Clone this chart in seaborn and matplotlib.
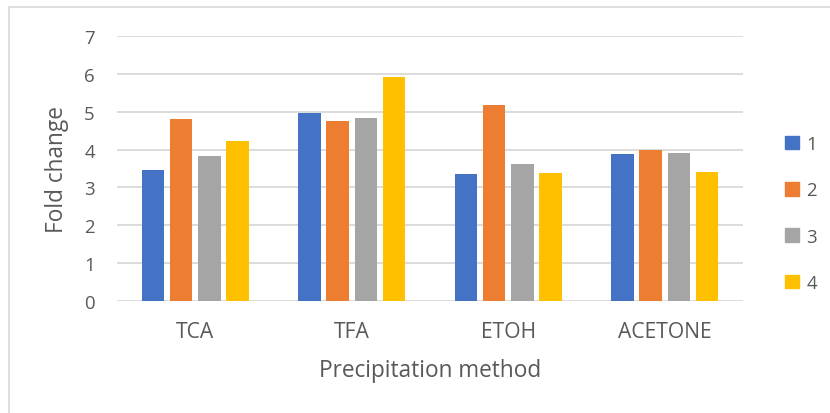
import matplotlib
matplotlib.use("Agg")
import matplotlib.pyplot as plt
import seaborn as sns
import pandas as pd
from matplotlib.lines import Line2D

categories = ["TCA", "TFA", "ETOH", "ACETONE"]
series_names = ["1", "2", "3", "4"]
s1 = [3.47, 4.96, 3.35, 3.88]
s2 = [4.80, 4.77, 5.18, 4.00]
s3 = [3.83, 4.83, 3.61, 3.90]
s4 = [4.24, 5.93, 3.39, 3.41]
yticks = [0, 1, 2, 3, 4, 5, 6, 7]
colors = ["#4472C4", "#ED7D31", "#A5A5A5", "#FFC000"]

rows = []
for name, vals in zip(series_names, [s1, s2, s3, s4]):
    for c, v in zip(categories, vals):
        rows.append({"method": c, "series": name, "value": v})
df = pd.DataFrame(rows)

sns.set_theme(style="white")
plt.rcParams['font.family'] = ['Open Sans', 'DejaVu Sans']
txt = "#595959"
W, H = 830, 414
ytick_fs = 13.4
xtick_fs = 15.2
lab_fs = 16.3
leg_fs = 13.4

fig = plt.figure(figsize=(W/100, H/100), dpi=100)
ax = fig.add_axes([117/W, 1-301.7/H, (743-117)/W, (301.7-37.3)/H])

sns.barplot(data=df, x="method", y="value", hue="series", order=categories,
            hue_order=series_names, palette=colors, saturation=1,
            width=0.72, gap=0.2, edgecolor="none", linewidth=0, ax=ax,
            legend=False)

ax.set_ylim(0, 7)
ax.set_yticks(yticks)
ax.set_xlim(-0.5, len(categories)-0.5)
ax.yaxis.grid(True, color="#d9d9d9", linewidth=1.3)
ax.set_axisbelow(True)
for sp in ax.spines.values():
    sp.set_visible(False)
ax.tick_params(axis="both", length=0, colors=txt)
ax.tick_params(axis="x", pad=14.5, labelsize=xtick_fs)
ax.tick_params(axis="y", pad=16, labelsize=ytick_fs)
ax.set_xlabel("Precipitation method", fontsize=lab_fs, color=txt, va="top")
ax.xaxis.set_label_coords(0.5, (301.7-359)/264.4)
ax.set_ylabel("Fold change", fontsize=lab_fs, color=txt, va="center")
ax.yaxis.set_label_coords((57-117)/626, 0.5)

handles = [plt.Rectangle((0, 0), 1, 1, color=c) for c in colors]
fig.legend(handles, series_names, loc="center left", frameon=False,
           bbox_to_anchor=(785/W, 1-214.5/H), fontsize=leg_fs,
           handlelength=0.76, handleheight=0.76, handletextpad=0.38,
           labelspacing=1.52, borderpad=0, borderaxespad=0, labelcolor=txt)

fig.add_artist(Line2D([9/W, 9/W], [0, 1-8/H], color="#d9d9d9", lw=1.2))
fig.add_artist(Line2D([9/W, 1], [1-8/H, 1-8/H], color="#d9d9d9", lw=1.2))

fig.savefig("out.png", dpi=100)
